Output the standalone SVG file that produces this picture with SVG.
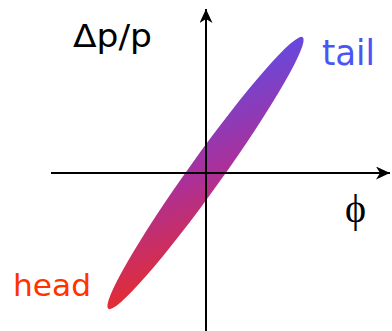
<svg xmlns="http://www.w3.org/2000/svg" width="392" height="331" viewBox="0 0 392 331">
<style>
.axis{stroke:#000;stroke-width:2;fill:none}
.lbl{font-family:"DejaVu Sans","Liberation Sans",sans-serif}
</style>
<defs>
<linearGradient id="g" gradientUnits="userSpaceOnUse" x1="108" y1="309" x2="303" y2="37">
<stop offset="0.06" stop-color="#ff2a00"/>
<stop offset="0.5" stop-color="#ab309a"/>
<stop offset="0.94" stop-color="#4455ff"/>
</linearGradient>
<marker id="arr" markerUnits="userSpaceOnUse" markerWidth="16" markerHeight="14" refX="14" refY="6.5" orient="auto" viewBox="0 0 16 14">
<path d="M0,0 L14,6.5 L0,13 L4,6.5 Z" fill="#000"/>
</marker>
</defs>
<g id="bunch">
<ellipse cx="205.5" cy="173" rx="167" ry="16.5" fill="url(#g)" transform="rotate(-54.4 205.5 173)"/>
</g>
<g id="connectors">
<line class="axis" x1="51" y1="173" x2="390" y2="173" marker-end="url(#arr)"/>
<line class="axis" x1="206" y1="331" x2="206" y2="9" marker-end="url(#arr)"/>
</g>
<g id="labels">
<text class="lbl" x="73" y="47" font-size="32" fill="#000" textLength="79" lengthAdjust="spacingAndGlyphs">Δp/p</text>
<text class="lbl" x="322" y="65" font-size="35" fill="#4a55f5" textLength="53" lengthAdjust="spacingAndGlyphs">tail</text>
<text class="lbl" x="13" y="296" font-size="31" fill="#ff3300" textLength="78" lengthAdjust="spacingAndGlyphs">head</text>
<text x="345" y="222" font-family="Liberation Serif,serif" font-size="40" fill="#000">ϕ</text>
</g>
</svg>
